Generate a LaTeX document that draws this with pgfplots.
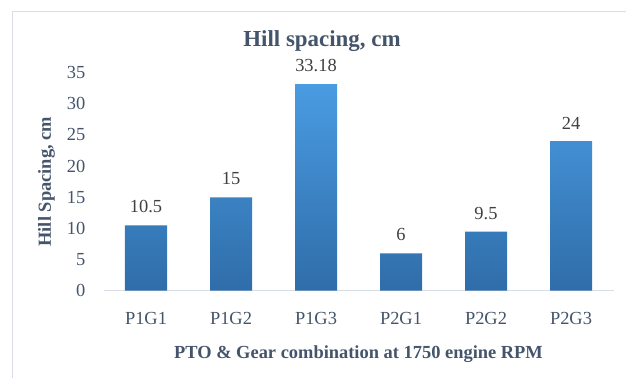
\documentclass[border=0pt]{standalone}
\usepackage{pgfplots}
\pgfplotsset{compat=1.18}
\usepackage{fontspec}
\setmainfont{Liberation Serif}
\definecolor{txt}{HTML}{44546A}
\definecolor{lbl}{HTML}{404040}
\definecolor{bartop}{HTML}{4A9BE2}
\definecolor{barbot}{HTML}{2F6DA9}
\definecolor{frame}{HTML}{DADDE6}
\definecolor{axln}{HTML}{D9DEE6}
\begin{document}
\begin{tikzpicture}
\useasboundingbox (0,0) rectangle (626bp,378bp);
\draw[frame, line width=1bp] (12.3bp,-5bp) -- (12.3bp,366.7bp) -- (640bp,366.7bp);
\node[txt, font=\fontsize{23}{25}\selectfont\bfseries, anchor=base] at (322bp,331.3bp) {Hill spacing, cm};
\begin{axis}[
  at={(103.5bp,87.3bp)}, anchor=south west,
  scale only axis, width=510bp, height=218bp,
  xmin=-0.5, xmax=5.5, ymin=0, ymax=35,
  ybar, bar width=42bp,
  axis x line*=bottom, axis y line*=left,
  x axis line style={draw=axln, line width=1bp},
  y axis line style={draw=none},
  major tick length=0pt,
  xtick={0,1,2,3,4,5},
  xticklabels={P1G1,P1G2,P1G3,P2G1,P2G2,P2G3},
  ytick={0,5,10,15,20,25,30,35},
  /pgf/number format/assume math mode=true,
  tick label style={font=\fontsize{18.5}{20}\selectfont, text=txt},
  xticklabel style={anchor=north, inner sep=0pt, yshift=-21bp},
  yticklabel style={anchor=east, inner sep=0pt, xshift=-18bp},
  xlabel={PTO \& Gear combination at 1750 engine RPM},
  xlabel style={at={(axis description cs:0.5,0)}, anchor=north, inner sep=0pt, yshift=-55bp, font=\fontsize{18.5}{20}\selectfont\bfseries, text=txt},
  ylabel={Hill Spacing, cm},
  ylabel style={at={(axis description cs:-0.1118,0.5)}, anchor=center, rotate=0, inner sep=0pt, font=\fontsize{18.5}{20}\selectfont\bfseries, text=txt},
  point meta=explicit symbolic,
  nodes near coords,
  every node near coord/.append style={font=\fontsize{18.5}{20}\selectfont, text=lbl, anchor=south, inner sep=0pt, yshift=12bp},
  clip=false,
]
\addplot[draw=none, top color=bartop, bottom color=barbot] coordinates {
  (0,10.5) [10.5]
  (1,15) [15]
  (2,33.18) [33.18]
  (3,6) [6]
  (4,9.5) [9.5]
  (5,24) [24]
};
\end{axis}
\end{tikzpicture}
\end{document}
